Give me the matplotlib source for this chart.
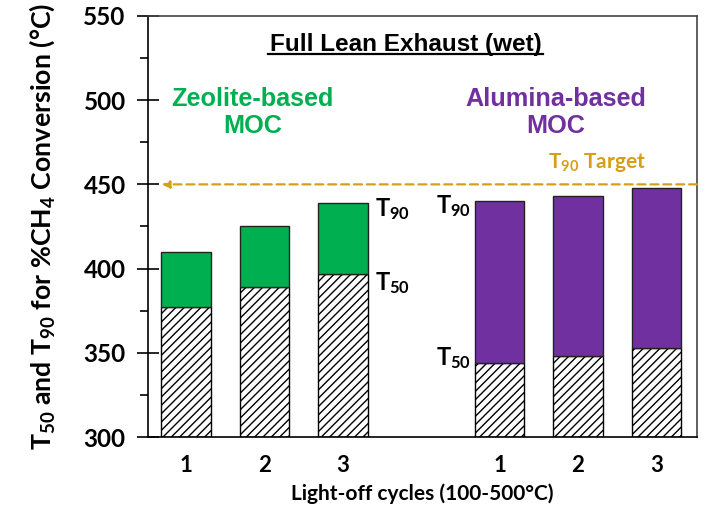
import numpy as np
import matplotlib.pyplot as plt

# Data
cycles = ["1", "2", "3", "1", "2", "3"]
zeolite_t50 = [377, 389, 397]
zeolite_t90 = [410, 425, 439]
alumina_t50 = [344, 348, 353]
alumina_t90 = [440, 443, 448]
t90_target = 450

green = "#00B050"
purple = "#7030A0"
gold = "#D4A017"

plt.rcParams["hatch.linewidth"] = 1.0
plt.rcParams["mathtext.fontset"] = "custom"
plt.rcParams["mathtext.rm"] = "Lato:bold"
plt.rcParams["mathtext.bf"] = "Lato:bold"
plt.rcParams["mathtext.it"] = "Lato:bold"

fig = plt.figure(figsize=(7.07, 5.13), dpi=100)
ax = fig.add_axes([0.209, 0.148, 0.777, 0.821])

x_zeo = np.array([0, 1, 2])
x_alu = np.array([4, 5, 6])
w = 0.63
base = 300

# T50 hatched part
ax.bar(x_zeo, np.array(zeolite_t50) - base, w, bottom=base, color="white",
       edgecolor="black", hatch="////", linewidth=1, zorder=2)
ax.bar(x_alu, np.array(alumina_t50) - base, w, bottom=base, color="white",
       edgecolor="black", hatch="////", linewidth=1, zorder=2)

# T50 -> T90 coloured part
ax.bar(x_zeo, np.array(zeolite_t90) - np.array(zeolite_t50), w, bottom=zeolite_t50,
       color=green, edgecolor="#222222", linewidth=1, zorder=2)
ax.bar(x_alu, np.array(alumina_t90) - np.array(alumina_t50), w, bottom=alumina_t50,
       color=purple, edgecolor="#222222", linewidth=1, zorder=2)

# target line with arrow
ax.annotate("", xy=(-0.31, t90_target), xytext=(6.52, t90_target),
            arrowprops=dict(arrowstyle="-|>", color=gold, lw=1.6,
                            linestyle=(0, (3.6, 2.2)), mutation_scale=11,
                            shrinkA=0, shrinkB=0), zorder=3)

ax.set_xlim(-0.49, 6.52)
ax.set_ylim(300, 550)
ax.set_xticks(np.concatenate([x_zeo, x_alu]))
ax.set_xticklabels(cycles)
ax.set_yticks([300, 350, 400, 450, 500, 550])
ax.set_yticks([325, 375, 425, 475, 525], minor=True)

ax.tick_params(axis="x", length=0, pad=13, labelsize=16)
ax.tick_params(axis="y", which="major", direction="inout", length=16, width=1.2,
               labelsize=17.5, pad=8)
ax.tick_params(axis="y", which="minor", direction="out", length=6, width=1.2)
for lab in ax.get_xticklabels() + ax.get_yticklabels():
    lab.set_fontfamily("Lato")
    lab.set_fontweight("bold")

for s in ax.spines.values():
    s.set_linewidth(1.2)
ax.spines["top"].set_color("#444444")
ax.spines["right"].set_color("#444444")

ax.set_xlabel("Light-off cycles (100-500°C)", fontsize=15, fontweight="bold",
              family="Lato", labelpad=5)
ax.set_ylabel("T$_{50}$ and T$_{90}$ for %CH$_{4}$ Conversion (°C)",
              fontsize=19.3, fontweight="bold", family="Lato", labelpad=19)

# texts
ax.text(2.8, 533, "Full Lean Exhaust (wet)", ha="center", va="center",
        fontsize=17.5, fontweight="bold", family="Liberation Sans")
ax.plot([1.05, 4.55], [527.6, 527.6], color="black", lw=1.6, zorder=4)

ax.text(0.85, 492.5, "Zeolite-based\nMOC", ha="center", va="center", color=green,
        fontsize=18.2, fontweight="bold", family="Liberation Sans", linespacing=1.15)
ax.text(4.72, 492.5, "Alumina-based\nMOC", ha="center", va="center", color=purple,
        fontsize=18.2, fontweight="bold", family="Liberation Sans", linespacing=1.15)
ax.text(5.87, 463, "T$_{90}$ Target", ha="right", va="center", color=gold,
        fontsize=15, fontweight="bold", family="Lato")

lab_kw = dict(fontsize=17, fontweight="bold", family="Lato", va="center")
ax.text(2.41, 435.5, "T$_{90}$", ha="left", **lab_kw)
ax.text(2.41, 391.5, "T$_{50}$", ha="left", **lab_kw)
ax.text(3.63, 437, "T$_{90}$", ha="right", **lab_kw)
ax.text(3.63, 347, "T$_{50}$", ha="right", **lab_kw)

fig.savefig("out.png", dpi=100)
